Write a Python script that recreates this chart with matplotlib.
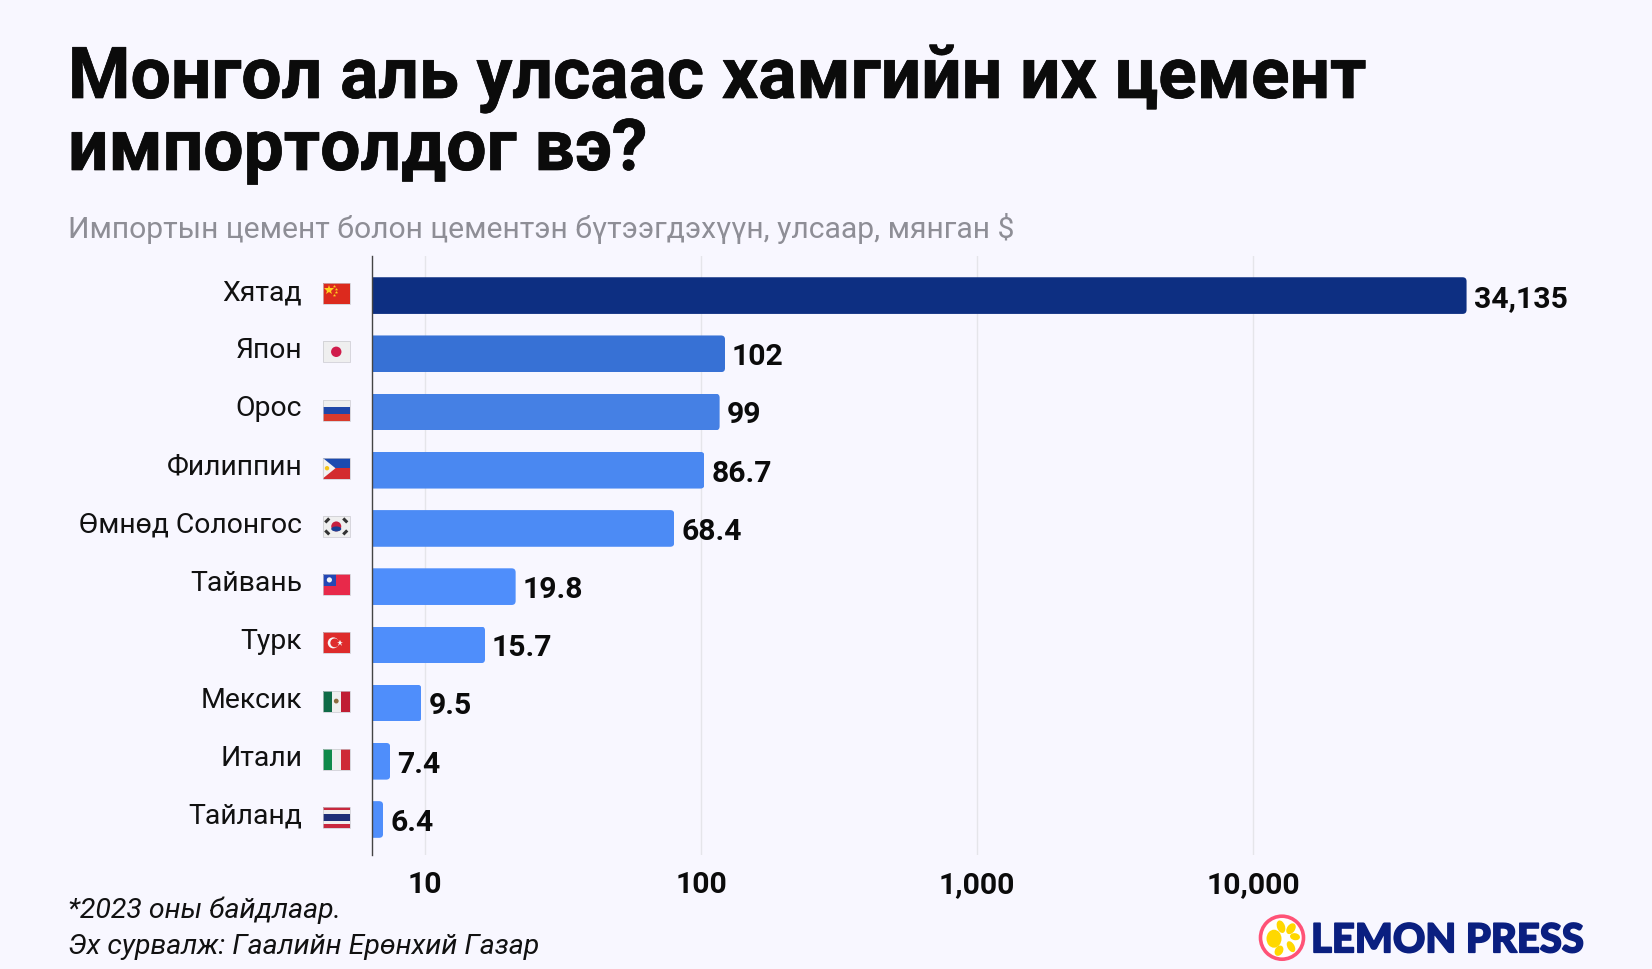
import matplotlib
matplotlib.use('Agg')
import matplotlib.pyplot as plt
from matplotlib.patches import Rectangle, Circle, Ellipse, Polygon, FancyBboxPatch
from matplotlib.transforms import IdentityTransform
import matplotlib.patheffects as pe

W, H = 1652, 970
BG = '#F8F7FF'

countries = ['Хятад', 'Япон', 'Орос', 'Филиппин', 'Өмнөд Солонгос',
             'Тайвань', 'Турк', 'Мексик', 'Итали', 'Тайланд']
flag_codes = ['cn', 'jp', 'ru', 'ph', 'kr', 'tw', 'tr', 'mx', 'it', 'th']
# printed values; the bars in the source do not land on these on its log axis
value_labels = ['34,135', '102', '99', '86.7', '68.4', '19.8', '15.7', '9.5', '7.4', '6.4']
# bar ends
bar_lengths = [59400, 122.2, 116.8, 102.9, 80.0, 21.3, 16.5, 9.7, 7.48, 7.05]
bar_colors = ['#0D2F82', '#3771D5', '#4580E4', '#4A88F1', '#4C8BF5',
              '#4F8EFB', '#4F8EFB', '#4F8EFB', '#4F8EFB', '#4F8EFB']
x_ticks = [10, 100, 1000, 10000]
x_tick_labels = ['10', '100', '1,000', '10,000']

plt.rcParams['font.family'] = ['Roboto', 'DejaVu Sans']

fig = plt.figure(figsize=(W / 100, H / 100), dpi=100, facecolor=BG)

# main axes, placed in pixels
left, right, top, bottom = 371.7, 1600, 257, 856
ax = fig.add_axes([left / W, 1 - bottom / H, (right - left) / W, (bottom - top) / H])
ax.set_facecolor('none')
ax.set_xscale('log')
ax.set_xlim(10 ** (1 - (425 - left) / 276), 10 ** (1 + (right - 425) / 276))
ax.set_ylim(9.61, -0.68)

ypos = list(range(len(countries)))
bars = ax.barh(ypos, bar_lengths, height=0.63, left=0.001, color=bar_colors, zorder=3)

ax.set_xticks(x_ticks)
ax.set_xticklabels(x_tick_labels, fontsize=21.7, fontweight='bold', color='#0b0b0b')
ax.minorticks_off()
ax.tick_params(axis='x', length=0, pad=10.6)
ax.set_yticks(ypos)
ax.set_yticklabels([])
ax.tick_params(axis='y', length=0)
ax.grid(axis='x', color='#E5E5EA', linewidth=1, zorder=0)
for side in ['top', 'right', 'bottom']:
    ax.spines[side].set_visible(False)
ax.spines['left'].set_color('#444444')
ax.spines['left'].set_linewidth(1.0)
ax.spines['left'].set_zorder(5)

# country names sit a little above the bar centre
for i, name in enumerate(countries):
    ax.annotate(name, (0, i), xycoords=('axes fraction', 'data'), xytext=(-50, 2.9),
                textcoords='offset points', ha='right', va='center',
                fontsize=20.4, color='#111111')

# rounded right corners on the bars
for bar in bars:
    x1, y0 = ax.transData.transform((bar.get_width() + bar.get_x(), bar.get_y()))
    _, y1 = ax.transData.transform((1, bar.get_y() + bar.get_height()))
    clip = FancyBboxPatch((left - 20, min(y0, y1)), x1 - left + 20, abs(y1 - y0),
                          boxstyle='round,pad=0,rounding_size=4', mutation_scale=1,
                          transform=IdentityTransform())
    bar.set_clip_path(clip)

for i, (val, txt) in enumerate(zip(bar_lengths, value_labels)):
    ax.annotate(txt, (val, i), xytext=(5, -1.7), textcoords='offset points', va='center',
                ha='left', fontsize=21.7, fontweight='bold', color='#0b0b0b')

# overlay in image pixels for flags and logo
ov = fig.add_axes([0, 0, 1, 1], facecolor='none')
ov.set_xlim(0, W)
ov.set_ylim(H, 0)
ov.axis('off')


def stripes(x, y, w, h, cols, vertical=False):
    n = len(cols)
    for k, c in enumerate(cols):
        if vertical:
            ov.add_patch(Rectangle((x + k * w / n, y), w / n, h, color=c, lw=0))
        else:
            ov.add_patch(Rectangle((x, y + k * h / n), w, h / n, color=c, lw=0))


def draw_flag(code, x, y, w=27.5, h=21):
    cx, cy = x + w / 2, y + h / 2
    if code == 'cn':
        stripes(x, y, w, h, ['#DC2A1E'])
        ov.plot([x + 6], [y + 7], marker='*', ms=7, color='#FFD21F', mew=0)
        ov.plot([x + 11, x + 13, x + 13, x + 11], [y + 3, y + 6, y + 9, y + 12],
                ls='', marker='*', ms=2.5, color='#FFD21F', mew=0)
    elif code == 'jp':
        stripes(x, y, w, h, ['#EFEFEF'])
        ov.add_patch(Circle((cx, cy), 5.2, color='#D01C4B', lw=0))
    elif code == 'ru':
        stripes(x, y, w, h, ['#EFEFEF', '#1F47A8', '#D83A2C'])
    elif code == 'ph':
        stripes(x, y, w, h, ['#1B4AB0', '#D32B2E'])
        ov.add_patch(Polygon([(x, y), (x + 13, cy), (x, y + h)], color='#F2F2F2', lw=0))
        ov.add_patch(Circle((x + 4.5, cy), 2.2, color='#F5C518', lw=0))
    elif code == 'kr':
        stripes(x, y, w, h, ['#EFEFEF'])
        ov.add_patch(Circle((cx, cy), 5, color='#C9203F', lw=0))
        ov.add_patch(Ellipse((cx, cy + 2.5), 10, 5, color='#1B3F94', lw=0))
        for dx, dy, up in [(-9, -6, 1), (9, -6, -1), (-9, 6, -1), (9, 6, 1)]:
            ov.plot([cx + dx - 2, cx + dx + 2], [cy + dy + 2 * up, cy + dy - 2 * up],
                    color='#333333', lw=2.2, solid_capstyle='butt')
    elif code == 'tw':
        stripes(x, y, w, h, ['#E8294A'])
        ov.add_patch(Rectangle((x, y), w / 2, h / 2 + 1, color='#2447B5', lw=0))
        ov.add_patch(Circle((x + w / 4, y + h / 4 + 0.5), 2.6, color='#F5F5F5', lw=0))
    elif code == 'tr':
        stripes(x, y, w, h, ['#DE2B2B'])
        ov.add_patch(Circle((cx - 3, cy), 5.5, color='#F7F7F7', lw=0))
        ov.add_patch(Circle((cx - 1.5, cy), 4.4, color='#DE2B2B', lw=0))
        ov.plot([cx + 4], [cy], marker='*', ms=5, color='#F7F7F7', mew=0)
    elif code == 'mx':
        stripes(x, y, w, h, ['#0F6B47', '#EFEFEF', '#C01D33'], vertical=True)
        ov.add_patch(Circle((cx, cy), 2.4, color='#8B6B3D', lw=0))
    elif code == 'it':
        stripes(x, y, w, h, ['#0F8A4A', '#EFEFEF', '#CE2B37'], vertical=True)
    elif code == 'th':
        stripes(x, y, w, h, ['#C8283E', '#EFEFEF', '#1E2F78', '#1E2F78', '#EFEFEF', '#C8283E'])
    ov.add_patch(Rectangle((x, y), w, h, fill=False, edgecolor='#C9C9CF', lw=0.5))


for i, code in enumerate(flag_codes):
    _, yd = ax.transData.transform((1, i))
    draw_flag(code, 322.5, (H - yd) - 12.5)

# headline text
title_fx = [pe.withStroke(linewidth=0.5, foreground='#0b0b0b')]
fig.text(68 / W, 1 - 99 / H, 'Монгол аль улсаас хамгийн их цемент', fontsize=51.4,
         fontweight='bold', color='#0b0b0b', va='baseline', path_effects=title_fx)
fig.text(68 / W, 1 - 171 / H, 'импортолдог вэ?', fontsize=51.4,
         fontweight='bold', color='#0b0b0b', va='baseline', path_effects=title_fx)
fig.text(68 / W, 1 - 238 / H, 'Импортын цемент болон цементэн бүтээгдэхүүн, улсаар, мянган $',
         fontsize=21.7, color='#8E8E96', va='baseline')

# footnotes
fig.text(68 / W, 1 - 918 / H, '*2023 оны байдлаар.', fontsize=20.5, style='italic',
         color='#111111', va='baseline')
fig.text(68 / W, 1 - 954 / H, 'Эх сурвалж: Гаалийн Ерөнхий Газар', fontsize=20.5,
         style='italic', color='#111111', va='baseline')

# logo
lx, ly = 1282, 938.7
ov.add_patch(Circle((lx, ly), 21.5, facecolor='#FFFFFF', edgecolor='#FF5277', lw=2.6))
for ex, ey, ew, eh, ang in [(-8, 1, 15, 18, 0), (-1, -11, 8, 13, -20), (9, -9, 8, 12, 35),
                            (13, -1, 10, 7, 10), (9, 9, 7, 12, -30), (-3, 13, 8, 11, 30)]:
    ov.add_patch(Ellipse((lx + ex, ly + ey), ew, eh, angle=ang, color='#FFD800', lw=0))
ov.text(1311, 953.3, 'LEMON PRESS', fontsize=28.8, fontfamily='Lato', fontweight='black',
        color='#0A1F80', va='baseline', ha='left',
        path_effects=[pe.withStroke(linewidth=1.2, foreground='#0A1F80')])

fig.savefig('out.png', dpi=100, facecolor=BG)
